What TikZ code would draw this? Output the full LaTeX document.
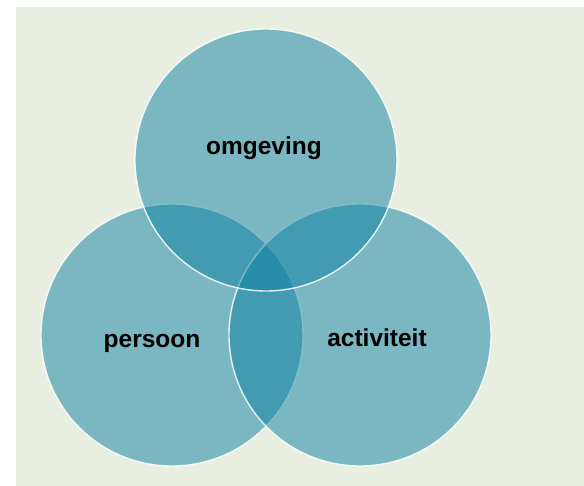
\documentclass[tikz,border=0pt]{standalone}
\usepackage{fontspec}
\setmainfont{Liberation Sans}
\usepackage{tikz}
\usetikzlibrary{positioning}
\definecolor{paleground}{HTML}{E8EFE1}
\definecolor{vennteal}{HTML}{0E80A3}

\tikzset{
  venncirc/.style={
    circle,
    fill=vennteal,
    fill opacity=0.5,
    draw=white,
    draw opacity=0.85,
    line width=1.4pt,
    minimum size=262pt,
    inner sep=0pt
  },
  vennlabel/.style={
    font=\bfseries\fontsize{24.5}{24.5}\selectfont,
    text=black,
    anchor=base,
    inner sep=0pt
  }
}

\begin{document}
\begin{tikzpicture}[x=1pt,y=-1pt]
\useasboundingbox (0,0) rectangle (584,486);
\fill[white] (0,0) rectangle (584,486);
\fill[paleground] (16,7) rectangle (584,486);

% three overlapping circles, drawn bottom-left first
\node[venncirc] (persooncirc) at (172,335) {};
\node[venncirc] (activiteitcirc) at (360,335) {};
\node[venncirc] (omgevingcirc) at (266,160) {};

\node[vennlabel] (omgeving) at (264,155) {omgeving};
\node[vennlabel] (persoon) at (152,348) {persoon};
\node[vennlabel] (activiteit) at (377,347) {activiteit};
\end{tikzpicture}
\end{document}
